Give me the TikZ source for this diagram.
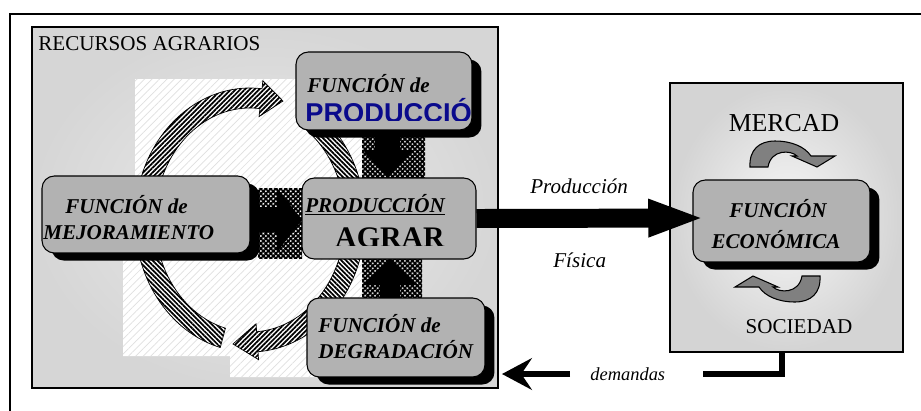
\documentclass[tikz,border=0pt]{standalone}
\usepackage{fontspec}
\setmainfont{Liberation Serif}
\setsansfont{Liberation Sans}
\usetikzlibrary{arrows.meta,patterns.meta,shadows}

\definecolor{navy}{RGB}{10,10,140}

\tikzset{
  panel/.style={draw, line width=0.8pt, inner sep=0pt},
  fbox/.style={draw, line width=0.6pt, fill=black!30, rounded corners=7pt, inner sep=0pt},
  shbox/.style={fbox, general shadow={fill=black, shadow xshift=5.4pt, shadow yshift=-4.3pt}},
  btext/.style={anchor=base west, inner sep=0pt, font=\fontsize{12}{14}\selectfont\bfseries\itshape},
  rtext/.style={inner sep=0pt, font=\fontsize{12}{14}\selectfont},
  stripe/.style={draw, line width=0.4pt, fill=white,
    postaction={pattern={Lines[angle=#1,distance=1.9pt,line width=1pt]}}},
  checker/.style={pattern={Hatch[angle=45,distance=2pt,line width=1pt]}},
  garrow/.style={draw, line width=0.6pt, fill=black!50},
  dline/.style={line width=3pt},
}

\begin{document}
\begin{tikzpicture}[x=0.02cm, y=-0.02cm]
  \useasboundingbox (0,0) rectangle (921,410);
  \clip (0,0) rectangle (921,410);

  % marco exterior
  \draw[line width=1.1pt] (10,420) -- (10,14) -- (930,14);

  % recursos agrarios
  \node[panel, minimum width=9.32cm, minimum height=7.22cm,
        inner color=black!8, outer color=black!16] (rec) at (265,207.5) {};
  \node[rtext, anchor=base west] (lrec) at (38,50) {RECURSOS AGRARIOS};

  \path[fill=white, postaction={pattern={Lines[angle=45,distance=3pt,line width=0.4pt]}, pattern color=black!12}]
    (135,79) -- (362,79) -- (362,377) -- (230,377) -- (230,356) -- (123,356) -- (123,260) -- (135,260) -- cycle;

  % ciclo
  \begin{scope}[shift={(250,220)}]
    \draw[stripe=45] (190:115 and 132) arc[start angle=190, end angle=276, x radius=115, y radius=132]
      -- (276:123 and 140) -- (33,-119) -- (276:87 and 104) -- (276:95 and 112)
      arc[start angle=276, end angle=190, x radius=95, y radius=112] -- cycle;
    \draw[stripe=-45] (305:115 and 132) arc[start angle=305, end angle=410, x radius=115, y radius=132]
      -- (410:95 and 112) arc[start angle=410, end angle=305, x radius=95, y radius=112] -- cycle;
    \draw[stripe=45] (50:115 and 132) arc[start angle=50, end angle=86, x radius=115, y radius=132]
      -- (86:123 and 140) -- (-17,124) -- (86:87 and 104) -- (86:95 and 112)
      arc[start angle=86, end angle=50, x radius=95, y radius=112] -- cycle;
    \draw[stripe=-45] (105:115 and 132) arc[start angle=105, end angle=170, x radius=115, y radius=132]
      -- (170:95 and 112) arc[start angle=170, end angle=105, x radius=95, y radius=112] -- cycle;
  \end{scope}

  % flechas hacia la produccion
  \fill[checker] (362,136) rectangle (425,178);
  \fill (375,136) -- (400,136) -- (400,150) -- (413,150) -- (388,178) -- (363,150) -- (375,150) -- cycle;
  \fill[checker] (258,188) rectangle (302,258);
  \fill (258,207) -- (277,207) -- (277,188) -- (302,220) -- (277,252) -- (277,232) -- (258,232) -- cycle;
  \fill[checker] (362,259) rectangle (422,298);
  \fill (380,298) -- (400,298) -- (400,285) -- (418,285) -- (390,259) -- (362,285) -- (380,285) -- cycle;

  % funciones
  \node[shbox, minimum width=3.52cm, minimum height=1.56cm] (prod) at (384,91) {};
  \node[shbox, minimum width=4.16cm, minimum height=1.54cm] (mej) at (146,214.5) {};
  \node[shbox, minimum width=3.56cm, minimum height=1.58cm] (deg) at (396,337.5) {};
  \node[fbox, minimum width=3.48cm, minimum height=1.62cm] (agr) at (389,218.5) {};

  \node[btext] (fprod) at (307,92) {FUNCIÓN de};
  \begin{scope}
    \clip (297,95) rectangle (473,120);
    \node[anchor=base west, inner sep=0pt, text=navy,
          font=\sffamily\bfseries\fontsize{15.5}{18}\selectfont] (lprod) at (305,122) {PRODUCCIÓ};
  \end{scope}
  \node[btext] (fmej) at (65,213) {FUNCIÓN de};
  \node[btext] (lmej) at (43,239) {MEJORAMIENTO};
  \node[btext] (fagr) at (305,212) {\underline{PRODUCCIÓN}};
  \begin{scope}
    \clip (302,200) rectangle (476,245);
    \node[anchor=base, inner sep=0pt, font=\bfseries\fontsize{17}{20}\selectfont] (lagr) at (390,247) {AGRAR};
  \end{scope}
  \node[btext] (fdeg) at (318,332) {FUNCIÓN de};
  \node[btext] (ldeg) at (318,358) {DEGRADACIÓN};

  % mercado y sociedad
  \node[panel, minimum width=4.66cm, minimum height=5.38cm,
        inner color=black!3, outer color=black!17] (mer) at (786.5,217.5) {};
  \node[shbox, minimum width=3.54cm, minimum height=1.64cm] (eco) at (781.5,221) {};
  \node[btext, anchor=base] (feco) at (778,217) {FUNCIÓN};
  \node[btext, anchor=base] (leco) at (776,248) {ECONÓMICA};
  \node[rtext, anchor=base, font=\fontsize{14.7}{17}\selectfont] (lmer) at (784,131) {MERCAD};
  \node[rtext, anchor=base] (lsoc) at (799,333) {SOCIEDAD};

  \filldraw[garrow] (750,167) .. controls (749,150) and (759,141) .. (775,141)
    .. controls (792,141) and (805,147) .. (811,156) -- (835,156) -- (817,167) -- (792,156) -- (797,156)
    .. controls (791,150) and (771,149) .. (768,167) -- cycle;
  \begin{scope}[rotate around={180:(785,221.5)}]
    \filldraw[garrow] (750,167) .. controls (749,150) and (759,141) .. (775,141)
      .. controls (792,141) and (805,147) .. (811,156) -- (835,156) -- (817,167) -- (792,156) -- (797,156)
      .. controls (791,150) and (771,149) .. (768,167) -- cycle;
  \end{scope}

  % produccion fisica
  \coordinate (ptip) at (705,218);
  \draw[line width=10.8pt, -{Triangle[length=32.3pt,width=19.3pt]}] (agr.east) -- (ptip);
  \node[rtext, anchor=base west, font=\fontsize{12}{14}\selectfont\itshape] (lpf1) at (530,193) {Producción};
  \node[rtext, anchor=base west, font=\fontsize{12}{14}\selectfont\itshape] (lpf2) at (553,267) {Física};

  % demandas
  \node[rtext, anchor=base west, font=\fontsize{10.5}{12}\selectfont\itshape] (dem) at (590,380) {demandas};
  \coordinate (dc) at (782,374);
  \coordinate (dr) at (703,374);
  \coordinate (dl) at (570,374);
  \coordinate (dtip) at (502,374);
  \draw[dline] (mer.south -| dc) |- (dr);
  \draw[dline, -{Stealth[length=17pt,width=18pt,inset=6pt]}] (dl) -- (dtip);
\end{tikzpicture}
\end{document}
